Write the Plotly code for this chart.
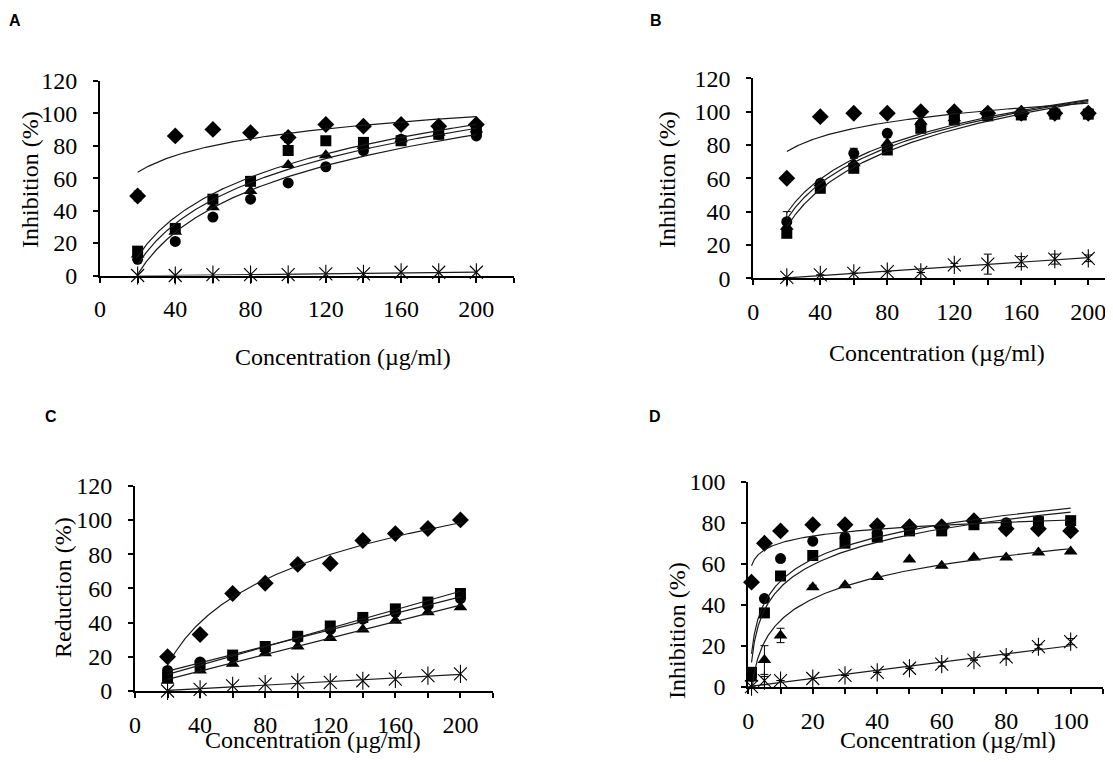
import numpy as np
import plotly.graph_objects as go

# ---------------- data ----------------
conc_ABC = [20, 40, 60, 80, 100, 120, 140, 160, 180, 200]
conc_D = [1, 5, 10, 20, 30, 40, 50, 60, 70, 80, 90, 100]

A_diamond = [49, 86, 90, 88, 85, 93, 92, 93, 92, 93]
A_square = [15, 29, 47, 58, 77, 83, 82, 83, 87, 89]
A_triangle = [13, 27, 42, 52, 68, 74, 80, 84, 88, 90]
A_circle = [10, 21, 36, 47, 57, 67, 77, 84, 87, 86]
A_star = [0, 0, 0.5, 0.5, 0.5, 1, 1, 2, 2, 2]
A_diamond_err = [3, 0, 0, 2, 3, 0, 0, 0, 0, 0]

B_diamond = [60, 97, 99, 99, 100, 100, 99, 99, 99, 99]
B_square = [27, 54, 66, 77, 90, 95, 97.5, 98, 98.5, 98.5]
B_triangle = [31, 57, 69, 81, 94, 96, 98, 98.6, 99, 99]
B_circle = [34, 57, 75, 87, 92, 96.5, 99.4, 99, 99, 99.4]
B_star = [0.5, 2, 3, 4, 3.5, 8, 8.5, 10, 11.5, 12]
B_circle_err = [6, 2, 3, 0, 0, 0, 0, 0, 0, 0]
B_star_err = [0, 0, 0, 0, 0, 1, 6, 3, 3, 2]

C_diamond = [20, 33, 57, 63, 74, 74.5, 88, 92, 95, 100]
C_square = [8, 15, 21, 26, 32, 38, 43, 48, 52, 57]
C_triangle = [6, 12, 16, 22, 26, 31, 36, 41, 46, 49]
C_circle = [12, 17, 20, 25, 31, 36, 42, 46, 50, 54]
C_star = [0, 1, 3, 4, 5, 5, 6, 7, 9, 10]

D_diamond = [51, 70, 76, 79, 79, 78.5, 78, 78, 81, 77, 77, 76]
D_square = [7, 36, 54, 64, 70, 73, 76, 76, 79, 78, 80.5, 81]
D_triangle = [4, 13, 25, 48.5, 49.5, 53.5, 62, 59, 63, 63, 65.5, 66]
D_circle = [5, 43, 62.5, 71, 73, 75, 77, 78, 80, 80, 81, 80]
D_star = [0, 3, 3, 4, 5.5, 7, 9, 11, 13, 14.5, 19.5, 22]
D_triangle_err = [0, 7, 3.5, 1, 0, 0, 0, 0, 0, 0, 0, 0]
D_star_err = [0, 2, 0, 0, 0, 0, 0, 1, 0, 1, 1, 1.5]

x_ticks_200 = [0, 20, 40, 60, 80, 100, 120, 140, 160, 180, 200, 220]
x_labels_200 = ["0", "", "40", "", "80", "", "120", "", "160", "", "200", ""]
x_ticks_100 = [0, 10, 20, 30, 40, 50, 60, 70, 80, 90, 100, 110]
x_labels_100 = ["0", "", "20", "", "40", "", "60", "", "80", "", "100", ""]
y_ticks_120 = [0, 20, 40, 60, 80, 100, 120]
y_ticks_100 = [0, 20, 40, 60, 80, 100]

x_title = "Concentration (µg/ml)"
y_title_inh = "Inhibition (%)"
y_title_red = "Reduction (%)"

# ---------------- geometry ----------------
# page has an 8px body margin: figure is sized to fit the 1113x762 window
OFF = 8
W, H = 1113 - 2 * OFF, 762 - 2 * OFF

SERIF = "Liberation Serif"
fig = go.Figure()

MARK = {
    "diamond": dict(symbol="diamond", size=13),
    "square": dict(symbol="square", size=11),
    "triangle": dict(symbol="triangle-up", size=12),
    "circle": dict(symbol="circle", size=11),
}


def add_points(x, y, kind, xa, ya, err=None):
    eb = None
    if err is not None:
        eb = dict(type="data", array=err, visible=True, color="black",
                  thickness=1, width=4)
    if kind == "star":
        for sym in ["x-thin-open", "line-ns-open"]:
            fig.add_trace(go.Scatter(
                x=x, y=y, mode="markers", xaxis=xa, yaxis=ya,
                marker=dict(symbol=sym, size=13, color="black",
                            line=dict(color="#222", width=1.1)),
                error_y=eb if sym == "x-thin-open" else None,
                cliponaxis=False, showlegend=False, hoverinfo="x+y"))
    else:
        m = MARK[kind]
        fig.add_trace(go.Scatter(
            x=x, y=y, mode="markers", xaxis=xa, yaxis=ya,
            marker=dict(symbol=m["symbol"], size=m["size"], color="black",
                        line=dict(width=0)),
            error_y=eb, cliponaxis=False, showlegend=False,
            hoverinfo="x+y"))


def add_fit(x, y, kind, xa, ya):
    x = np.asarray(x, float)
    y = np.asarray(y, float)
    if kind == "log":
        a, b = np.polyfit(np.log(x), y, 1)
        xs = np.geomspace(x.min(), x.max(), 300)
        ys = a * np.log(xs) + b
    else:
        a, b = np.polyfit(x, y, 1)
        xs = np.linspace(x.min(), x.max(), 50)
        ys = a * xs + b
    fig.add_trace(go.Scatter(
        x=xs, y=ys, mode="lines", xaxis=xa, yaxis=ya,
        line=dict(color="#1a1a1a", width=1.2), showlegend=False,
        hoverinfo="skip"))


panels = [
    ("x", "y", conc_ABC,
     [(A_diamond, "diamond", A_diamond_err, "log"),
      (A_square, "square", None, "log"),
      (A_triangle, "triangle", None, "log"),
      (A_circle, "circle", None, "log"),
      (A_star, "star", None, "lin")]),
    ("x2", "y2", conc_ABC,
     [(B_diamond, "diamond", None, "log"),
      (B_square, "square", None, "log"),
      (B_triangle, "triangle", None, "log"),
      (B_circle, "circle", B_circle_err, "log"),
      (B_star, "star", B_star_err, "lin")]),
    ("x3", "y3", conc_ABC,
     [(C_diamond, "diamond", None, "log"),
      (C_square, "square", None, "lin"),
      (C_triangle, "triangle", None, "lin"),
      (C_circle, "circle", None, "lin"),
      (C_star, "star", None, "lin")]),
    ("x4", "y4", conc_D,
     [(D_diamond, "diamond", None, "log"),
      (D_square, "square", None, "log"),
      (D_triangle, "triangle", D_triangle_err, "log"),
      (D_circle, "circle", None, "log"),
      (D_star, "star", D_star_err, "lin")]),
]

for xa, ya, xs, series in panels:
    for vals, kind, err, fit in series:
        add_points(xs, vals, kind, xa, ya, err)
    for vals, kind, err, fit in series:
        add_fit(xs, vals, fit, xa, ya)


def xdom(left_px, right_px):
    return [(left_px - OFF) / W, min((right_px - OFF) / W, 1.0)]


def ydom(top_px, bottom_px):
    return [1 - (bottom_px - OFF) / H, 1 - (top_px - OFF) / H]


tickfont = dict(family=SERIF, size=24, color="black")


def xaxis(dom, rng, tv, tt, anchor):
    return dict(domain=dom, range=rng, anchor=anchor, tickmode="array",
                tickvals=tv, ticktext=tt, showline=True, linecolor="black",
                linewidth=2, ticks="outside", ticklen=5, tickwidth=1.5,
                tickcolor="black", showgrid=False, zeroline=False,
                tickfont=tickfont, ticklabelstandoff=6, automargin=False,
                ticklabeloverflow="allow", fixedrange=True)


def yaxis(dom, rng, tv, anchor):
    return dict(domain=dom, range=rng, anchor=anchor, tickmode="array",
                tickvals=tv, showline=True, linecolor="black", linewidth=2,
                ticks="outside", ticklen=5, tickwidth=1.5, tickcolor="black",
                showgrid=False, zeroline=False, tickfont=tickfont,
                ticklabelstandoff=11, automargin=False,
                ticklabeloverflow="allow", fixedrange=True)


B_left = 753.3
B_right = OFF + W
B_range_max = (B_right - B_left) / 1.675

fig.update_layout(
    width=W, height=H,
    margin=dict(l=0, r=0, t=0, b=0, pad=0, autoexpand=False),
    paper_bgcolor="white", plot_bgcolor="white", showlegend=False,
    xaxis=xaxis(xdom(100, 514), [0, 220], x_ticks_200, x_labels_200, "y"),
    yaxis=yaxis(ydom(80.7, 275.5), [0, 120], y_ticks_120, "x"),
    xaxis2=xaxis(xdom(B_left, B_right), [0, B_range_max], x_ticks_200,
                 x_labels_200, "y2"),
    yaxis2=yaxis(ydom(78.3, 278.3), [0, 120], y_ticks_120, "x2"),
    xaxis3=xaxis(xdom(135, 493), [0, 220], x_ticks_200, x_labels_200, "y3"),
    yaxis3=yaxis(ydom(485.7, 691), [0, 120], y_ticks_120, "x3"),
    xaxis4=xaxis(xdom(748.3, 1102.9), [0, 110], x_ticks_100, x_labels_100,
                 "y4"),
    yaxis4=yaxis(ydom(481.7, 686.7), [0, 100], y_ticks_100, "x4"),
)

annots = []


def ann(text, px, py, size=24, angle=0, family=SERIF, bold=False):
    annots.append(dict(
        text=f"<b>{text}</b>" if bold else text,
        x=(px - OFF) / W, y=1 - (py - OFF) / H,
        xref="paper", yref="paper", showarrow=False, xanchor="center",
        yanchor="middle", textangle=angle,
        font=dict(family=family, size=size, color="black")))


ann(y_title_inh, 30, 180, angle=-90)
ann(x_title, 343, 357)
ann(y_title_inh, 667, 180, angle=-90)
ann(x_title, 937, 353)
ann(y_title_red, 63, 588, angle=-90)
ann(x_title, 313, 740)
ann(y_title_inh, 677, 631, angle=-90)
ann(x_title, 948, 740)

ann("A", 15, 20, size=16, family="Liberation Sans", bold=True)
ann("B", 656, 20, size=16, family="Liberation Sans", bold=True)
ann("C", 51, 416, size=16, family="Liberation Sans", bold=True)
ann("D", 655, 416, size=16, family="Liberation Sans", bold=True)

fig.update_layout(annotations=annots)

fig.write_html("out.html")
